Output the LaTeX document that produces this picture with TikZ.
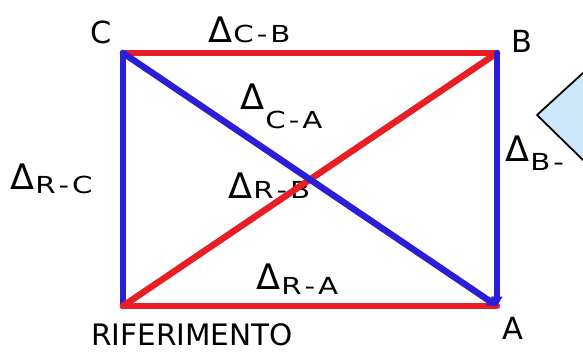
\documentclass[tikz,border=0pt]{standalone}
\usepackage{fontspec}
\setmainfont{DejaVu Sans}
\usepackage{graphicx}
\usepackage{xcolor}
\usetikzlibrary{arrows.meta, positioning, calc}
\definecolor{penred}{RGB}{232,30,36}
\definecolor{penblue}{RGB}{42,30,215}
\definecolor{notefill}{RGB}{204,232,250}
% delta label: letter, drop of the subscript, two end points
\newcommand{\dl}[3][0pt]{{\fontsize{30}{30}\selectfont Δ}\kern1pt\raisebox{#1}{\scalebox{1.25}[1]{\fontsize{20}{20}\selectfont #2\kern2pt-\kern2pt#3}}}

\begin{document}
\begin{tikzpicture}[x=0.3mm, y=-0.3mm,
    side/.style={line width=5.5pt, line cap=round},
    redside/.style={side, draw=penred},
    blueside/.style={side, draw=penblue},
    tosideA/.style={blueside, -{Triangle[length=8pt, width=9pt]}},
    every node/.style={inner sep=0pt, text=black},
    corner/.style={font=\fontsize{26}{26}\selectfont},
    delta/.style={anchor=west}]
    \useasboundingbox (0,0) rectangle (583,352);
    \clip (0,0) rectangle (583,352);
    \fill[white] (0,0) rectangle (583,352);

    \coordinate (C) at (123,53);
    \coordinate (B) at (497,53);
    \coordinate (A) at (497,306);
    \coordinate (R) at (123,306);

    % corner names
    \node[corner, above left=2.8mm and 3.2mm of C] (lC) {C};
    \node[corner, above right=0mm and 4.2mm of B] (lB) {B};
    \node[corner, below right=3.2mm and 1.6mm of A] (lA) {A};
    \node[font=\fontsize{24}{24}\selectfont, scale=1.05] (lR) at (192,335) {RIFERIMENTO};

    % differences
    \node[delta] (dCB) at (208,30) {\dl{C}{B}};
    \node[delta] (dCA) at (240,106) {\dl[-16pt]{C}{A}};
    \node[delta] (dRC) at (10,179) {\dl[-4pt]{R}{C}};
    \node[delta] (dRB) at (228,186) {\dl{R}{B}};
    \node[delta] (dRA) at (256,279) {\dl[-4pt]{R}{A}};
    \node[delta] (dBA) at (505,153) {\dl[-8pt]{B}{}};

    \draw[blueside] (R) -- (C);
    \draw[redside] (C) -- (B);
    \draw[redside] (R) -- (A);
    \draw[redside] (R) -- (B);
    \draw[tosideA] (C) -- (A);
    \draw[tosideA] (B) -- (A);

    % note bubble
    \filldraw[fill=notefill, draw=black, line width=1.5pt] (629,31) -- (537,115) -- (629,205);
\end{tikzpicture}
\end{document}
